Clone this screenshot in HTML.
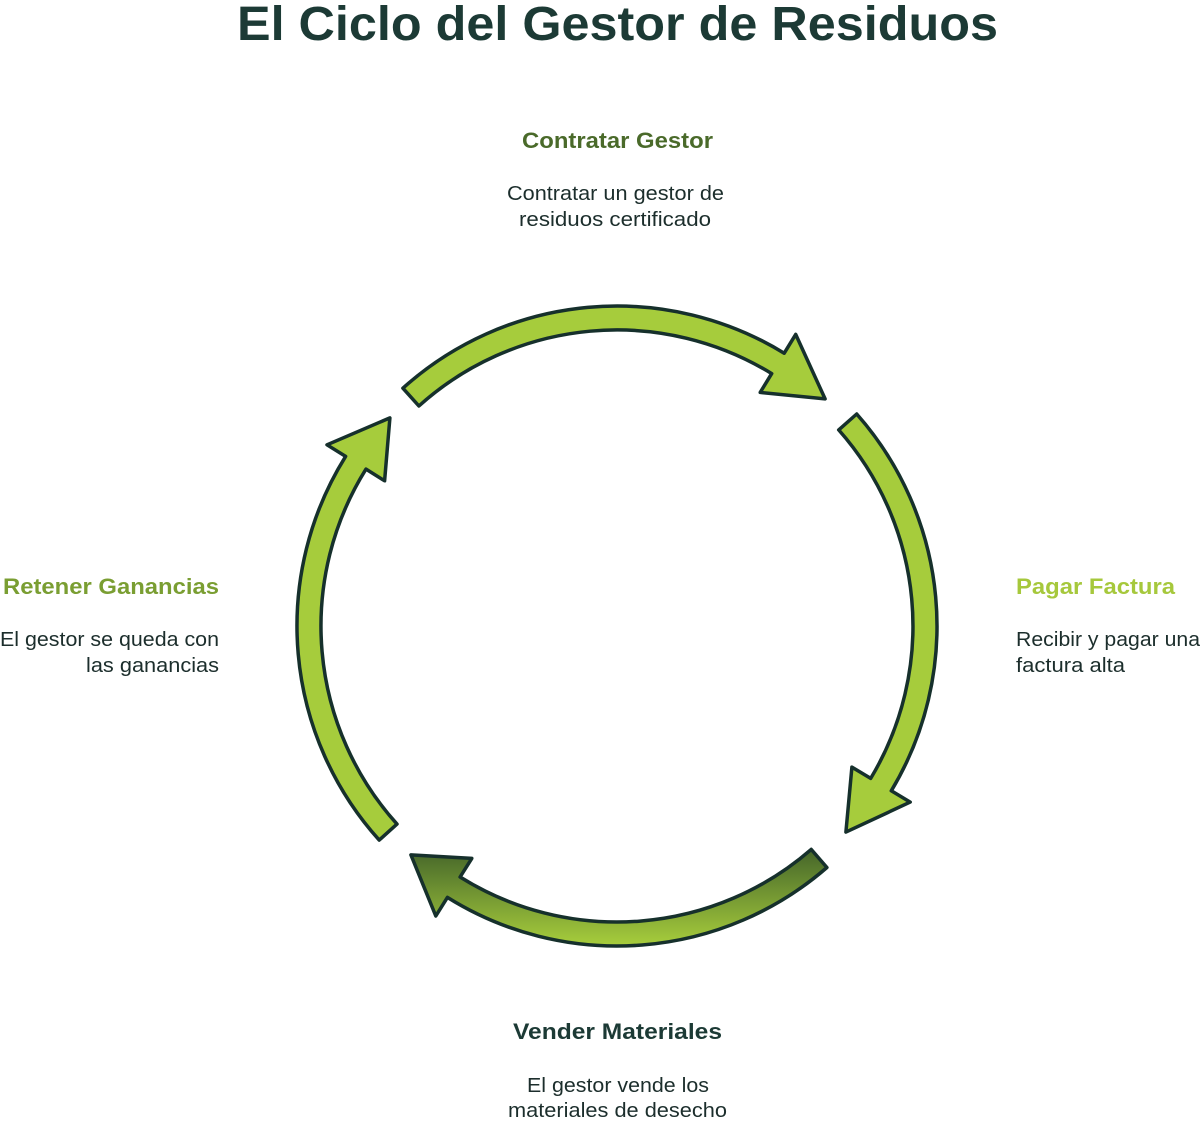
<!DOCTYPE html>
<html><head><meta charset="utf-8"><style>
html,body{margin:0;padding:0;background:#fff;}
body{width:1200px;height:1120px;overflow:hidden;}
svg text{font-family:"Liberation Sans",sans-serif;}
</style></head><body>
<svg width="1200" height="1120" viewBox="0 0 1200 1120" xmlns="http://www.w3.org/2000/svg">
<defs>
<linearGradient id="g" x1="0" y1="0" x2="0" y2="1">
<stop offset="0" stop-color="#44652a"/><stop offset="1" stop-color="#a8ce3c"/>
</linearGradient>
</defs>
<text x="617.5" y="40" text-anchor="middle" font-size="48" font-weight="bold" fill="#1c3a35" textLength="761" lengthAdjust="spacingAndGlyphs">El Ciclo del Gestor de Residuos</text>

<g stroke="#16302c" stroke-width="3.5" stroke-linejoin="round" fill="#a6cc3c">
<path d="M402.9,388.2 A320,320 0 0 1 784.2,353.2 L795.7,334.4 L825.1,398.9 L760.2,392.4 L771.7,373.6 A296,296 0 0 0 418.9,406 Z"/>
<path d="M856.7,414 A320,320 0 0 1 891.3,790.8 L910.2,802.1 L845.9,832.1 L851.9,767.1 L870.7,778.4 A296,296 0 0 0 838.7,429.9 Z"/>
<path fill="url(#g)" d="M826.9,867.5 A320,320 0 0 1 447.4,897.4 L435.8,916 L410.9,854.9 L471.8,858.4 L460.1,877 A296,296 0 0 0 811.2,849.4 Z"/>
<path d="M379.2,840.1 A320,320 0 0 1 345.6,456.4 L327,444.8 L389.9,417.9 L384.6,480.8 L366,469.1 A296,296 0 0 0 397,824.1 Z"/>
</g>

<g lengthAdjust="spacingAndGlyphs">
<text x="617.5" y="148" text-anchor="middle" font-size="22" font-weight="bold" fill="#4a6a2a" textLength="191" lengthAdjust="spacingAndGlyphs">Contratar Gestor</text>
<text x="615.5" y="200" text-anchor="middle" font-size="20" fill="#1c2e2c" textLength="217" lengthAdjust="spacingAndGlyphs">Contratar un gestor de</text>
<text x="615" y="226" text-anchor="middle" font-size="20" fill="#1c2e2c" textLength="192" lengthAdjust="spacingAndGlyphs">residuos certificado</text>

<text x="1016" y="594" font-size="22" font-weight="bold" fill="#a6c83c" textLength="159" lengthAdjust="spacingAndGlyphs">Pagar Factura</text>
<text x="1016" y="646" font-size="20" fill="#1c2e2c" textLength="184" lengthAdjust="spacingAndGlyphs">Recibir y pagar una</text>
<text x="1016" y="672" font-size="20" fill="#1c2e2c" textLength="109" lengthAdjust="spacingAndGlyphs">factura alta</text>

<text x="219" y="594" text-anchor="end" font-size="22" font-weight="bold" fill="#7a9e32" textLength="216" lengthAdjust="spacingAndGlyphs">Retener Ganancias</text>
<text x="219" y="646" text-anchor="end" font-size="20" fill="#1c2e2c" textLength="219" lengthAdjust="spacingAndGlyphs">El gestor se queda con</text>
<text x="219" y="672" text-anchor="end" font-size="20" fill="#1c2e2c" textLength="133" lengthAdjust="spacingAndGlyphs">las ganancias</text>

<text x="617.5" y="1039" text-anchor="middle" font-size="22" font-weight="bold" fill="#1c3a35" textLength="209" lengthAdjust="spacingAndGlyphs">Vender Materiales</text>
<text x="618" y="1092" text-anchor="middle" font-size="20" fill="#1c2e2c" textLength="182" lengthAdjust="spacingAndGlyphs">El gestor vende los</text>
<text x="617.5" y="1117" text-anchor="middle" font-size="20" fill="#1c2e2c" textLength="219" lengthAdjust="spacingAndGlyphs">materiales de desecho</text>
</g>
</svg>
</body></html>
